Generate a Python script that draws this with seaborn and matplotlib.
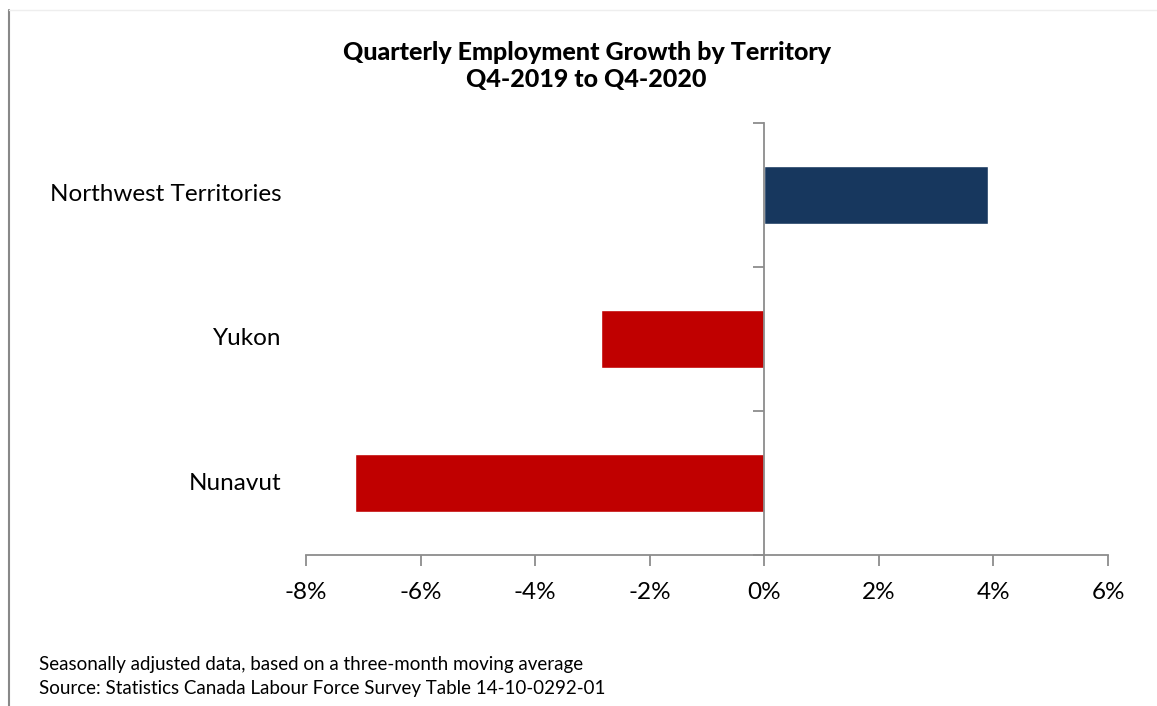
import numpy as np
import pandas as pd
import matplotlib
matplotlib.use("Agg")
import matplotlib.pyplot as plt
from matplotlib.lines import Line2D
import seaborn as sns

territories = ["Northwest Territories", "Yukon", "Nunavut"]
growth = [3.9, -2.85, -7.14]
bar_colors = ["#17375E", "#C00000", "#C00000"]
x_ticks = [-8, -6, -4, -2, 0, 2, 4, 6]
title = "Quarterly Employment Growth by Territory\nQ4-2019 to Q4-2020"
notes = ["Seasonally adjusted data, based on a three-month moving average",
         "Source: Statistics Canada Labour Force Survey Table 14-10-0292-01"]

df = pd.DataFrame({"territory": territories, "growth": growth})

sns.set_style("white")
plt.rcParams['font.family'] = ['Lato', 'DejaVu Sans']
plt.rcParams['text.color'] = 'black'

fig = plt.figure(figsize=(11.57, 7.06), dpi=100)
ax = fig.add_axes([0.2645, 0.2135, 0.6932, 0.6127])

sns.barplot(data=df, x="growth", y="territory", hue="territory",
            palette=dict(zip(territories, bar_colors)), orient="h",
            width=0.4, saturation=1, legend=False, ax=ax)

gray = "#8C8C8C"
ax.set_xlim(-8, 6)
ax.set_ylim(2.5, -0.5)
ax.set_xlabel("")
ax.set_ylabel("")
for s in ["top", "right"]:
    ax.spines[s].set_visible(False)
ax.spines["left"].set_position(("data", 0))
for s in ["left", "bottom"]:
    ax.spines[s].set_color(gray)
    ax.spines[s].set_linewidth(1.3)
ax.spines["left"].set_zorder(5)

ax.set_xticks(x_ticks)
ax.set_xticklabels([f"{v}%" for v in x_ticks])
ax.tick_params(axis="x", bottom=True, direction="out", length=8, width=1.3,
               color=gray, labelsize=17.5, pad=11, labelcolor="black")
ax.set_yticks([])
ax.set_yticks([-0.5, 0.5, 1.5, 2.5], minor=True)
ax.tick_params(axis="y", which="minor", left=True, direction="out", length=8,
               width=1.3, color=gray, labelleft=False)

for i, name in enumerate(territories):
    ax.text(-0.031, i, name, transform=ax.get_yaxis_transform(),
            ha="right", va="center", fontsize=17.5, color="black")

fig.text(0.507, 0.907, title, ha="center", va="center", fontsize=18,
         fontweight="black", linespacing=1.2, color="black")
fig.text(0.034, 0.042, notes[0] + "\n" + notes[1], ha="left", va="center",
         fontsize=13.5, linespacing=1.5, color="black")

fig.add_artist(Line2D([9 / 1157, 9 / 1157], [0, 1 - 10 / 706],
                      transform=fig.transFigure, color="#888888", lw=1.5))
fig.add_artist(Line2D([9 / 1157, 1], [1 - 10 / 706, 1 - 10 / 706],
                      transform=fig.transFigure, color="#EEEEEE", lw=1))

fig.savefig("out.png", dpi=100)
